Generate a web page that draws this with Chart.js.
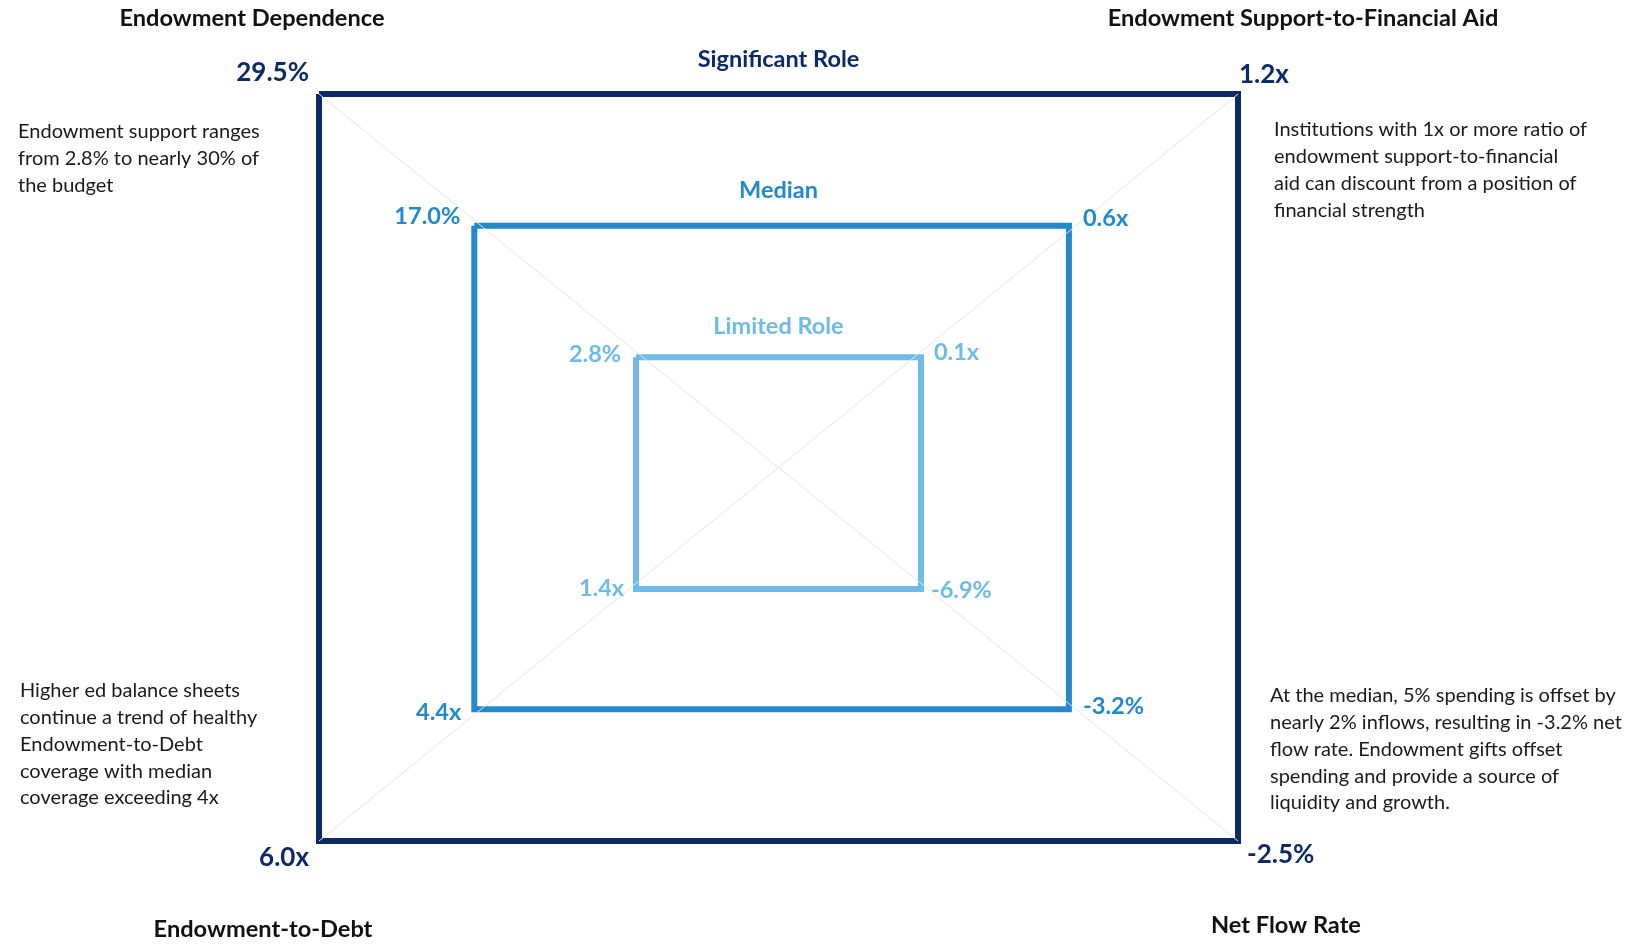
<!DOCTYPE html>
<html>
<head>
<meta charset="utf-8">
<title>Endowment role</title>
<script src="https://cdn.jsdelivr.net/npm/chart.js@4"></script>
<style>
  html, body { margin: 0; padding: 0; background: #fff; }
  #wrap { position: relative; width: 1639px; height: 947px; }
</style>
</head>
<body>
<div id="wrap"><canvas id="roleChart"></canvas></div>
<script>
// corner metrics, clockwise from top-left
var metricNames = ['Endowment Dependence', 'Endowment Support-to-Financial Aid', 'Net Flow Rate', 'Endowment-to-Debt']
var ringNames = ['Significant Role', 'Median', 'Limited Role']
// how far out each ring sits (1 = outer frame)
var ringLevel = [1, 0.647, 0.31]
var significantValues = ['29.5%', '1.2x', '-2.5%', '6.0x']
var medianValues = ['17.0%', '0.6x', '-3.2%', '4.4x']
var limitedValues = ['2.8%', '0.1x', '-6.9%', '1.4x']
var metricNotes = [
    ['Endowment support ranges', 'from 2.8% to nearly 30% of', 'the budget'],
    ['Institutions with 1x or more ratio of', 'endowment support-to-financial', 'aid can discount from a position of', 'financial strength'],
    ['At the median, 5% spending is offset by', 'nearly 2% inflows, resulting in -3.2% net', 'flow rate. Endowment gifts offset', 'spending and provide a source of', 'liquidity and growth.'],
    ['Higher ed balance sheets', 'continue a trend of healthy', 'Endowment-to-Debt', 'coverage with median', 'coverage exceeding 4x']
]

var ringValues = [significantValues, medianValues, limitedValues]
var ringColors = ['#0c2a66', '#2189cc', '#6dbbe8']
var ringNudge = [[0, 0], [-0.015, 0], [0, -0.015]] // small drift of the rings in the original
var ringTitleGap = [35, 35, 31]
var cornerDir = [[-1, 1], [1, 1], [1, -1], [-1, -1]]
var FONT = 'Lato, "Open Sans", sans-serif'

var datasets = []
// thin diagonals behind the rings
datasets.push({ data: [{ x: -1, y: 1 }, { x: 1, y: -1 }], borderColor: '#e4e4e4', borderWidth: 1 })
datasets.push({ data: [{ x: -1, y: -1 }, { x: 1, y: 1 }], borderColor: '#e4e4e4', borderWidth: 1 })
ringLevel.forEach(function (lvl, i) {
    var pts = cornerDir.map(function (d) {
        return { x: d[0] * lvl + ringNudge[i][0], y: d[1] * lvl + ringNudge[i][1] }
    })
    pts.push(pts[0])
    datasets.push({
        label: ringNames[i],
        data: pts,
        borderColor: ringColors[i],
        borderWidth: 6,
        borderJoinStyle: 'miter'
    })
})

// label offsets from each ring corner (px), per ring, per corner
var valueOffsets = [
    [[-10, -21, 'right'], [1, -19, 'left'], [9, 14, 'left'], [-10, 17, 'right']],
    [[-14, -9, 'right'], [14, -7, 'left'], [14, -3, 'left'], [-13, 3, 'right']],
    [[-15, -3, 'right'], [13, -5, 'left'], [10, 2, 'left'], [-12, 0, 'right']]
]
var valueFontSize = [26, 23.6, 23.5]

var textPlugin = {
    id: 'roleText',
    afterDatasetsDraw: function (chart) {
        var ctx = chart.ctx
        var xs = chart.scales.x, ys = chart.scales.y
        ctx.save()
        ctx.textBaseline = 'middle'

        // ring values at the corners + ring titles
        ringLevel.forEach(function (lvl, i) {
            var pts = chart.data.datasets[i + 2].data
            ctx.fillStyle = ringColors[i]
            ctx.font = 'bold ' + valueFontSize[i] + 'px ' + FONT
            cornerDir.forEach(function (d, j) {
                var px = xs.getPixelForValue(pts[j].x)
                var py = ys.getPixelForValue(pts[j].y)
                var o = valueOffsets[i][j]
                ctx.textAlign = o[2]
                ctx.fillText(ringValues[i][j], px + o[0], py + o[1])
            })
            ctx.font = 'bold 23.5px ' + FONT
            ctx.textAlign = 'center'
            ctx.fillText(ringNames[i], xs.getPixelForValue(0), ys.getPixelForValue(pts[0].y) - ringTitleGap[i])
        })

        // metric titles
        var titlePos = [[252, 18], [1303, 18], [1286, 925], [263, 929]]
        ctx.fillStyle = '#111'
        ctx.font = 'bold 23.6px ' + FONT
        ctx.textAlign = 'center'
        metricNames.forEach(function (t, j) {
            ctx.fillText(t, titlePos[j][0], titlePos[j][1])
        })

        // notes
        var notePos = [[18, 132], [1274, 130], [1270, 696], [20, 691]]
        ctx.fillStyle = '#1a1a1a'
        ctx.font = '20px ' + FONT
        ctx.textAlign = 'left'
        metricNotes.forEach(function (lines, j) {
            lines.forEach(function (line, k) {
                ctx.fillText(line, notePos[j][0], notePos[j][1] + k * 26.7)
            })
        })
        ctx.restore()
    }
}

new Chart(document.getElementById('roleChart').getContext('2d'), {
    type: 'scatter',
    data: { datasets: datasets },
    options: {
        responsive: true,
        maintainAspectRatio: false,
        animation: false,
        showLine: true,
        clip: false,
        elements: { point: { radius: 0, hoverRadius: 0 }, line: { tension: 0 } },
        layout: { padding: { left: 319, right: 401, top: 94, bottom: 106 } },
        scales: {
            x: { type: 'linear', min: -1, max: 1, display: false },
            y: { type: 'linear', min: -1, max: 1, display: false }
        },
        plugins: { legend: { display: false }, tooltip: { enabled: false } }
    },
    plugins: [textPlugin]
})
</script>
</body>
</html>
